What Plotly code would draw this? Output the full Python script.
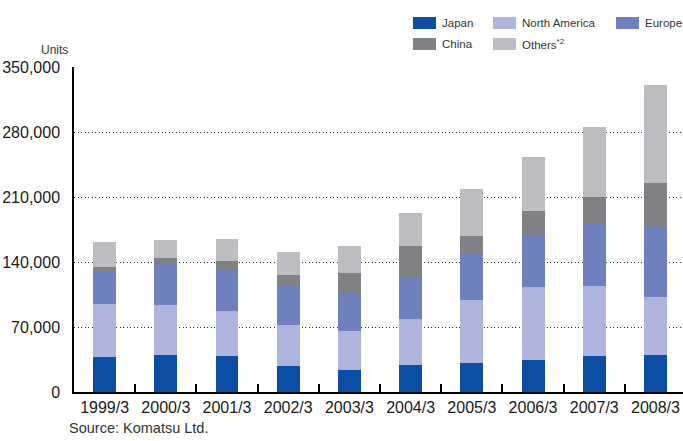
import plotly.graph_objects as go

years = ["1999/3", "2000/3", "2001/3", "2002/3", "2003/3",
         "2004/3", "2005/3", "2006/3", "2007/3", "2008/3"]
japan = [38100, 40000, 38900, 28100, 23800, 29200, 31300, 34600, 38900, 40000]
north_america = [56900, 54000, 48600, 44300, 42100, 49700, 68100, 78900, 75600, 62600]
europe = [35700, 44600, 45400, 42400, 41000, 45000, 50800, 55100, 65900, 75600]
china = [4300, 6200, 8600, 11600, 21600, 33800, 17300, 25900, 29200, 46500]
others = [27000, 19400, 23800, 24800, 29200, 34600, 50800, 58300, 75600, 105900]

series_names = ["Japan", "North America", "Europe", "China", "Others<sup>*2</sup>"]
series_values = [japan, north_america, europe, china, others]
colors = ["#0a4fa3", "#adb5dc", "#6f80bf", "#808185", "#bcbdc1"]
y_ticks = [0, 70000, 140000, 210000, 280000, 350000]

regular = "Liberation Sans, Arial, sans-serif"

fig = go.Figure()
for name, vals, col in zip(series_names, series_values, colors):
    fig.add_trace(go.Bar(x=years, y=vals, name=name, marker=dict(color=col, line=dict(width=0)),
                         width=0.375, showlegend=False, hoverinfo="skip"))

fig.update_layout(
    barmode="stack",
    width=683, height=441,
    margin=dict(l=74, r=0, t=67, b=49),
    plot_bgcolor="white", paper_bgcolor="white",
    font=dict(family=regular, size=16, color="#1a1a1a"),
    xaxis=dict(range=[-0.5, 9.45], showline=True, linecolor="black", linewidth=1.5,
               ticks="inside", tickson="boundaries", ticklen=8, tickcolor="black", tickwidth=1.5,
               showgrid=False, tickfont=dict(size=16, color="#1a1a1a")),
    yaxis=dict(range=[0, 350000], tickvals=y_ticks, tickformat=",d",
               showline=True, linecolor="black", linewidth=1.5,
               showgrid=True, gridcolor="#333", griddash="1px,2.5px", gridwidth=1,
               zeroline=False, ticks="", ticklabelstandoff=9,
               tickfont=dict(size=16, color="#1a1a1a")),
)

# Legend drawn manually
legend_pos = [(413, 23), (493, 23), (616, 23), (413, 44), (493, 44)]
for (px, py), name, col in zip(legend_pos, series_names, colors):
    fig.add_shape(type="rect", xref="paper", yref="paper",
                  x0=(px - 74) / 609, x1=(px + 23 - 74) / 609,
                  y0=(441 - 49 - (py + 6)) / 325, y1=(441 - 49 - (py - 6)) / 325,
                  fillcolor=col, line=dict(width=0))
    fig.add_annotation(xref="paper", yref="paper", x=(px + 27 - 74) / 609,
                       y=(441 - 49 - py) / 325, text=name, showarrow=False,
                       xanchor="left", yanchor="middle",
                       font=dict(family=regular, size=11.5, color="#333"))

fig.add_annotation(xref="paper", yref="paper", x=(70 - 74) / 609, y=(441 - 49 - 50) / 325,
                   text="Units", showarrow=False, xanchor="right", yanchor="middle",
                   font=dict(family=regular, size=12, color="#333"))
fig.add_annotation(xref="paper", yref="paper", x=(67 - 74) / 609, y=(441 - 49 - 428) / 325,
                   text="Source: Komatsu Ltd.", showarrow=False, xanchor="left", yanchor="middle",
                   font=dict(family=regular, size=14.5, color="#333"))

fig.write_html("out.html", config={"displayModeBar": False},
               post_script="document.body.style.margin='0';")
